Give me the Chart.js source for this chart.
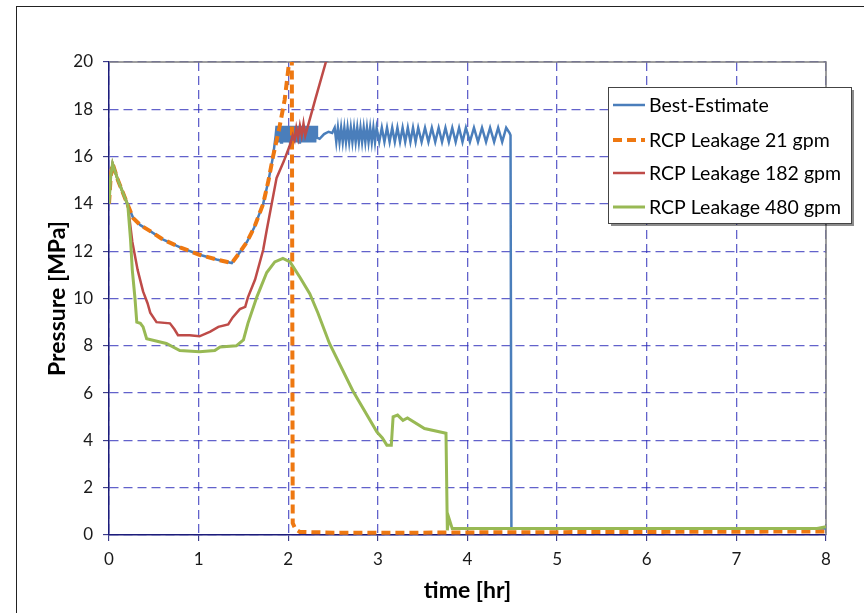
<!DOCTYPE html>
<html>
<head>
<meta charset="utf-8">
<script src="https://cdn.jsdelivr.net/npm/chart.js@4.4.0/dist/chart.umd.min.js"></script>
<style>
  html, body { margin: 0; padding: 0; background: #fff; }
  #wrap { position: relative; width: 864px; height: 613px; overflow: hidden; }
</style>
</head>
<body>
<div id="wrap"><canvas id="chart" width="864" height="613"></canvas></div>
<script>
// Series labels
const seriesLabels = ['Best-Estimate', 'RCP Leakage 21 gpm', 'RCP Leakage 182 gpm', 'RCP Leakage 480 gpm'];

// Axis ticks
const timeTicks = [0, 1, 2, 3, 4, 5, 6, 7, 8];
const pressureTicks = [0, 2, 4, 6, 8, 10, 12, 14, 16, 18, 20];

// Best-Estimate: ramp, dense band, smooth part, oscillation, drop
const beRampT = [0, 0.02, 0.04, 0.1, 0.21, 0.27, 0.35, 0.46, 0.6, 0.8, 1.01, 1.2, 1.37, 1.45, 1.54, 1.62, 1.72, 1.78, 1.83, 1.86];
const beRampP = [14.0, 15.2, 15.7, 15.0, 13.95, 13.4, 13.1, 12.85, 12.5, 12.15, 11.85, 11.65, 11.5, 11.9, 12.4, 13.0, 14.0, 15.0, 16.0, 16.9];
const beBandT = [1.87, 1.88, 1.89, 1.90, 1.91, 1.92, 1.93, 1.94, 1.95, 1.96, 1.97, 1.98, 1.99, 2.00, 2.01,
                 2.02, 2.03, 2.04, 2.05, 2.06, 2.07, 2.08, 2.09, 2.10, 2.11, 2.12, 2.13, 2.14, 2.15, 2.16,
                 2.17, 2.18, 2.19, 2.20, 2.21, 2.22, 2.23, 2.24, 2.25, 2.26, 2.27, 2.28, 2.29, 2.30, 2.31,
                 2.32, 2.35, 2.40, 2.45, 2.49];
const beBandP = [17.3, 16.6, 17.3, 16.6, 17.3, 16.6, 17.3, 16.6, 17.3, 16.6, 17.3, 16.6, 17.3, 16.6, 17.3,
                 16.6, 17.3, 16.6, 17.3, 16.6, 17.3, 16.6, 17.3, 16.6, 17.3, 16.6, 17.3, 16.6, 17.3, 16.6,
                 17.3, 16.6, 17.3, 16.6, 17.3, 16.6, 17.3, 16.6, 17.3, 16.6, 17.3, 16.6, 17.3, 16.6, 17.3,
                 16.8, 16.75, 16.95, 17.05, 17.0];
const beCycleT = [2.518, 2.536, 2.554, 2.572, 2.590, 2.608, 2.626, 2.644, 2.662, 2.680, 2.698, 2.716, 2.734, 2.752,
                  2.770, 2.788, 2.806, 2.824, 2.842, 2.860, 2.878, 2.896, 2.914, 2.932, 2.950, 2.968, 2.986,
                  3.015, 3.044, 3.073, 3.102, 3.131, 3.160, 3.189, 3.218, 3.247, 3.276, 3.305, 3.334, 3.363, 3.392, 3.421, 3.450,
                  3.488, 3.526, 3.564, 3.602, 3.640, 3.678, 3.716, 3.754, 3.792, 3.830, 3.868, 3.906, 3.944, 3.982,
                  4.027, 4.072, 4.117, 4.162, 4.207, 4.252, 4.297, 4.342, 4.387, 4.432];
const beCycleP = [17.22, 16.62, 17.22, 16.62, 17.22, 16.62, 17.22, 16.62, 17.22, 16.62, 17.22, 16.62, 17.22, 16.62,
                  17.22, 16.62, 17.22, 16.62, 17.22, 16.62, 17.22, 16.62, 17.22, 16.62, 17.22, 16.62, 17.22,
                  16.62, 17.22, 16.62, 17.22, 16.62, 17.22, 16.62, 17.22, 16.62, 17.22, 16.62, 17.22, 16.62, 17.22, 16.62, 17.22,
                  16.62, 17.22, 16.62, 17.22, 16.62, 17.22, 16.62, 17.22, 16.62, 17.22, 16.62, 17.22, 16.62, 17.22,
                  16.62, 17.22, 16.62, 17.22, 16.62, 17.22, 16.62, 17.22, 16.62, 17.22];
const beTailT = [4.47, 4.48, 4.49, 5.0, 6.0, 7.0, 8.0];
const beTailP = [17.0, 16.9, 0.3, 0.27, 0.27, 0.28, 0.28];

// RCP Leakage 21 gpm
const lk21T = [0, 0.02, 0.04, 0.1, 0.21, 0.27, 0.35, 0.46, 0.6, 0.8, 1.01, 1.2, 1.37, 1.45, 1.54, 1.62, 1.72, 1.78,
               1.83, 1.9, 1.96, 2.01, 2.025, 2.04, 2.045, 2.05, 2.08, 2.13, 2.5, 3.0, 3.5, 4.0, 5.0, 6.0, 7.0, 8.0];
const lk21P = [14.0, 15.2, 15.7, 15.0, 13.95, 13.4, 13.1, 12.85, 12.5, 12.15, 11.85, 11.65, 11.5, 11.9, 12.4, 13.0, 14.0, 15.0,
               16.0, 17.2, 18.4, 20.0, 21.0, 20.0, 10.0, 0.5, 0.25, 0.13, 0.1, 0.1, 0.1, 0.11, 0.12, 0.13, 0.14, 0.15];

// RCP Leakage 182 gpm
const lk182T = [0, 0.02, 0.04, 0.1, 0.21, 0.26, 0.32, 0.38, 0.43, 0.46, 0.53, 0.68, 0.73, 0.77, 0.9, 1.01, 1.13, 1.22,
                1.33, 1.38, 1.46, 1.52, 1.55, 1.63, 1.72, 1.76, 1.87, 1.95, 2.02, 2.05, 2.07, 2.09, 2.11, 2.13, 2.15,
                2.17, 2.19, 2.22, 2.30, 2.42, 2.45];
const lk182P = [14.0, 15.2, 15.7, 15.0, 13.95, 12.4, 11.2, 10.3, 9.8, 9.4, 9.0, 8.95, 8.7, 8.45, 8.45, 8.4, 8.6, 8.8,
                8.9, 9.2, 9.55, 9.65, 10.05, 10.8, 12.05, 12.9, 15.1, 15.8, 16.5, 16.9, 16.7, 17.2, 16.8, 17.3, 16.9,
                17.4, 16.9, 17.3, 18.4, 20.0, 20.5];

// RCP Leakage 480 gpm
const lk480T = [0, 0.02, 0.04, 0.1, 0.21, 0.24, 0.26, 0.29, 0.31, 0.35, 0.38, 0.42, 0.64, 0.79, 1.01, 1.18, 1.24, 1.42,
                1.5, 1.55, 1.65, 1.76, 1.85, 1.94, 2.02, 2.13, 2.24, 2.33, 2.46, 2.72, 2.99, 3.05, 3.1, 3.15, 3.17,
                3.22, 3.28, 3.33, 3.52, 3.76, 3.775, 3.79, 3.83, 5.0, 7.0, 7.9, 8.0];
const lk480P = [14.0, 15.2, 15.7, 15.0, 13.95, 12.5, 11.2, 10.0, 9.0, 8.95, 8.8, 8.3, 8.1, 7.8, 7.75, 7.8, 7.95, 8.0,
                8.25, 8.95, 10.07, 11.1, 11.55, 11.7, 11.55, 10.9, 10.2, 9.4, 8.1, 6.1, 4.35, 4.1, 3.8, 3.8, 5.0,
                5.07, 4.85, 4.95, 4.5, 4.3, 0.2, 0.75, 0.27, 0.27, 0.27, 0.28, 0.35];

function toPoints(ts, ps) {
    return ts.map((t, i) => ({ x: t, y: ps[i] }));
}

const bestT = beRampT.concat(beBandT, beCycleT, beTailT);
const bestP = beRampP.concat(beBandP, beCycleP, beTailP);

const FONT = 'Lato';
const gridColor = 'rgba(45, 45, 185, 0.75)';
const axisColor = '#1c1c7a';

// Fondo, marco exterior y borde gris del área del gráfico
const framePlugin = {
    id: 'frame',
    beforeDraw(chart) {
        const ctx = chart.ctx;
        ctx.save();
        ctx.fillStyle = '#fff';
        ctx.fillRect(0, 0, chart.width, chart.height);
        ctx.strokeStyle = '#222';
        ctx.lineWidth = 1;
        ctx.strokeRect(16.5, 6.5, 1000, 1000);
        ctx.restore();
    },
    beforeDatasetsDraw(chart) {
        const { ctx, chartArea: a } = chart;
        ctx.save();
        ctx.strokeStyle = '#7f7f7f';
        ctx.lineWidth = 1.5;
        ctx.beginPath();
        ctx.moveTo(a.left, a.top);
        ctx.lineTo(a.right, a.top);
        ctx.lineTo(a.right, a.bottom);
        ctx.stroke();
        ctx.restore();
    }
};

// Leyenda dentro del área de trazado
const boxLegend = {
    id: 'boxLegend',
    afterDraw(chart) {
        const ctx = chart.ctx;
        const x = 608, y = 87, w = 243, h = 136;
        ctx.save();
        ctx.fillStyle = 'rgba(0,0,0,0.45)';
        ctx.fillRect(x + 3, y + 3, w, h);
        ctx.fillStyle = '#fff';
        ctx.fillRect(x, y, w, h);
        ctx.strokeStyle = '#444';
        ctx.lineWidth = 1;
        ctx.strokeRect(x + 0.5, y + 0.5, w, h);
        const rows = [105, 140, 173, 207];
        chart.data.datasets.forEach((ds, i) => {
            const ry = rows[i];
            ctx.strokeStyle = ds.borderColor;
            ctx.lineWidth = ds.borderWidth;
            ctx.setLineDash(ds.borderDash || []);
            ctx.beginPath();
            ctx.moveTo(613, ry);
            ctx.lineTo(645, ry);
            ctx.stroke();
            ctx.setLineDash([]);
            ctx.fillStyle = '#000';
            ctx.font = '19.5px ' + FONT;
            ctx.textBaseline = 'middle';
            ctx.fillText(ds.label, 649, ry + 1);
        });
        ctx.restore();
    }
};

const ctx = document.getElementById('chart').getContext('2d');

new Chart(ctx, {
    type: 'line',
    data: {
        datasets: [
            { label: seriesLabels[0], data: toPoints(bestT, bestP), borderColor: '#4a7ebb', borderWidth: 2.5, order: 4 },
            { label: seriesLabels[1], data: toPoints(lk21T, lk21P), borderColor: '#ee7811', borderWidth: 4, borderDash: [9, 5], order: 3 },
            { label: seriesLabels[2], data: toPoints(lk182T, lk182P), borderColor: '#be4b48', borderWidth: 2.5, order: 2 },
            { label: seriesLabels[3], data: toPoints(lk480T, lk480P), borderColor: '#98b954', borderWidth: 3, order: 1 }
        ]
    },
    options: {
        responsive: false,
        devicePixelRatio: 1,
        animation: false,
        elements: { point: { radius: 0 }, line: { tension: 0, fill: false } },
        layout: { padding: { left: 0, top: 62, right: 38, bottom: 0 } },
        plugins: { legend: { display: false }, tooltip: { enabled: false } },
        scales: {
            x: {
                type: 'linear',
                min: 0, max: 8,
                afterBuildTicks: s => { s.ticks = timeTicks.map(v => ({ value: v })); },
                afterFit: s => { s.height = 78; },
                ticks: { color: '#1a1a1a', font: { family: FONT, size: 17 }, padding: 8 },
                grid: { color: gridColor, lineWidth: 1.3, tickLength: 6, tickColor: axisColor, tickWidth: 1 },
                border: { color: axisColor, width: 1.5, dash: [9, 5] },
                title: { display: true, text: 'time [hr]', color: '#000', font: { family: FONT, size: 23, weight: 'bold' }, padding: { top: 0, bottom: 9 } }
            },
            y: {
                type: 'linear',
                min: 0, max: 20,
                afterBuildTicks: s => { s.ticks = pressureTicks.map(v => ({ value: v })); },
                afterFit: s => { s.width = 109; },
                ticks: { color: '#1a1a1a', font: { family: FONT, size: 17 }, padding: 10 },
                grid: { color: gridColor, lineWidth: 1.3, tickLength: 6, tickColor: axisColor, tickWidth: 1 },
                border: { color: axisColor, width: 1.5, dash: [9, 5] },
                title: { display: true, text: 'Pressure [MPa]', color: '#000', font: { family: FONT, size: 23, weight: 'bold' }, padding: { top: 44, bottom: 0 } }
            }
        }
    },
    plugins: [framePlugin, boxLegend]
});
</script>
</body>
</html>
